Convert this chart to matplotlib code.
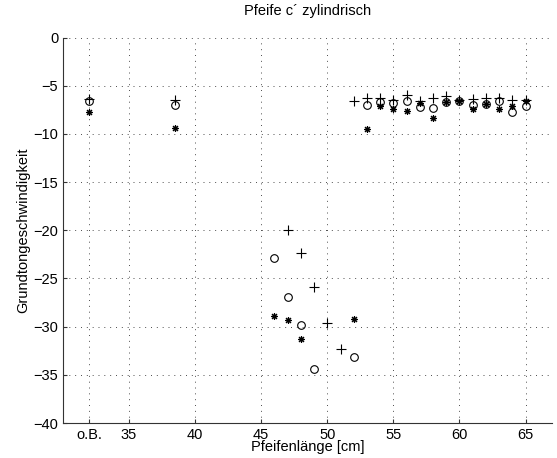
import numpy as np
import matplotlib
matplotlib.use('Agg')
import matplotlib.pyplot as plt

plt.rcParams['font.family'] = ['Liberation Sans', 'DejaVu Sans']

nan = np.nan
# pipe lengths (32 stands for "o.B.")
laenge = [32, 38.5, 46, 47, 48, 49, 50, 51, 52, 53, 54, 55, 56, 57, 58, 59, 60, 61, 62, 63, 64, 65]

werte_plus = [-6.4, -6.5, nan, -20.0, -22.4, -25.85, -29.6, -32.3, -6.55, -6.24, -6.24, -6.5,
              -6.0, -6.55, -6.24, -6.07, -6.5, -6.4, -6.3, -6.3, -6.5, -6.5]
werte_kreis = [-6.6, -7.0, -22.9, -26.95, -29.85, -34.4, nan, nan, -33.2, -7.04, -6.66, -6.8,
               -6.55, -7.25, -7.3, -6.66, -6.6, -7.0, -6.9, -6.6, -7.7, -7.07]
werte_stern = [-7.7, -9.4, -28.9, -29.3, -31.3, nan, nan, nan, -29.2, -9.5, -7.1, -7.4,
               -7.6, -6.76, -8.3, -6.66, -6.6, -7.45, -6.9, -7.4, -7.1, -6.6]

xticks = [32, 35, 40, 45, 50, 55, 60, 65]
xticklabels = ['o.B.', '35', '40', '45', '50', '55', '60', '65']
yticks = [0, -5, -10, -15, -20, -25, -30, -35, -40]

fig = plt.figure(figsize=(5.57, 4.58), dpi=100)
ax = fig.add_axes([0.1131, 0.0764, 0.991 - 0.1131, 0.918 - 0.0764])

ax.plot(laenge, werte_plus, linestyle='none', marker='+', color='k', markersize=6.5, markeredgewidth=0.8)
ax.plot(laenge, werte_kreis, linestyle='none', marker='o', color='k', markersize=5.5,
        markerfacecolor='none', markeredgewidth=0.8)
ax.plot(laenge, werte_stern, linestyle='none', marker=(8, 2, 0), color='k', markersize=5,
        markeredgewidth=0.8)

ax.set_xlim(30, 67)
ax.set_ylim(-40, 0)
ax.set_xticks(xticks)
ax.set_xticklabels(xticklabels)
ax.set_yticks(yticks)
ax.set_yticklabels(['\u2212' + str(abs(t)) if t < 0 else str(t) for t in yticks])

ax.grid(True, color='0.3', linestyle=(0, (1, 5)), linewidth=0.7)
ax.set_axisbelow(True)
for s in ['top', 'right']:
    ax.spines[s].set_visible(False)
for s in ['left', 'bottom']:
    ax.spines[s].set_color('0.2')
    ax.spines[s].set_linewidth(0.8)
ax.tick_params(direction='in', length=3, width=0.8, labelsize=10.5, colors='0.2', labelcolor='k')

ax.set_title('Pfeife c\u00b4 zylindrisch', fontsize=10.5, pad=16)
ax.set_xlabel('Pfeifenlänge [cm]', fontsize=10.5, labelpad=-1)
ax.set_ylabel('Grundtongeschwindigkeit', fontsize=10.5, labelpad=2)

plt.savefig('out.png', dpi=100)
